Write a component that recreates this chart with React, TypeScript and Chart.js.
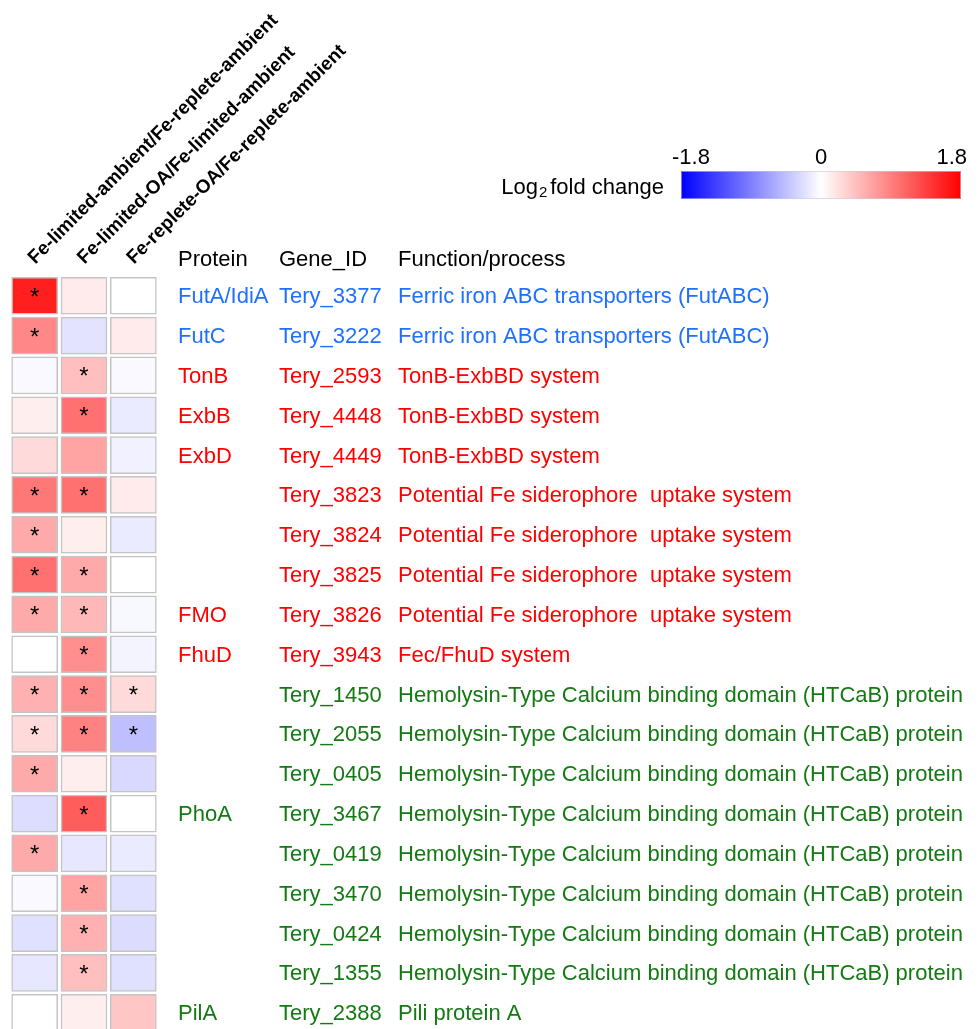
import React, { useEffect, useRef } from 'react';
import { Chart, registerables } from 'chart.js';

Chart.register(...registerables);

const conditions = [
  'Fe-limited-ambient/Fe-replete-ambient',
  'Fe-limited-OA/Fe-limited-ambient',
  'Fe-replete-OA/Fe-replete-ambient',
];

const proteins = ['FutA/IdiA', 'FutC', 'TonB', 'ExbB', 'ExbD', '', '', '', 'FMO', 'FhuD', '', '', '', 'PhoA', '', '', '', '', 'PilA'];

const geneIds = [
  'Tery_3377', 'Tery_3222', 'Tery_2593', 'Tery_4448', 'Tery_4449', 'Tery_3823', 'Tery_3824', 'Tery_3825',
  'Tery_3826', 'Tery_3943', 'Tery_1450', 'Tery_2055', 'Tery_0405', 'Tery_3467', 'Tery_0419', 'Tery_3470',
  'Tery_0424', 'Tery_1355', 'Tery_2388',
];

const functions = [
  'Ferric iron ABC transporters (FutABC)',
  'Ferric iron ABC transporters (FutABC)',
  'TonB-ExbBD system',
  'TonB-ExbBD system',
  'TonB-ExbBD system',
  'Potential Fe siderophore  uptake system',
  'Potential Fe siderophore  uptake system',
  'Potential Fe siderophore  uptake system',
  'Potential Fe siderophore  uptake system',
  'Fec/FhuD system',
  'Hemolysin-Type Calcium binding domain (HTCaB) protein',
  'Hemolysin-Type Calcium binding domain (HTCaB) protein',
  'Hemolysin-Type Calcium binding domain (HTCaB) protein',
  'Hemolysin-Type Calcium binding domain (HTCaB) protein',
  'Hemolysin-Type Calcium binding domain (HTCaB) protein',
  'Hemolysin-Type Calcium binding domain (HTCaB) protein',
  'Hemolysin-Type Calcium binding domain (HTCaB) protein',
  'Hemolysin-Type Calcium binding domain (HTCaB) protein',
  'Pili protein A',
];

// group of each row: 0 = iron ABC (blue), 1 = TonB/siderophore (red), 2 = HTCaB/pili (green)
const rowGroups = [0, 0, 1, 1, 1, 1, 1, 1, 1, 1, 2, 2, 2, 2, 2, 2, 2, 2, 2];
const groupColors = ['#2070ff', '#ff0000', '#137a13'];

// log2 fold change values
const feLimitedAmbient = [1.58, 0.85, -0.04, 0.12, 0.26, 0.95, 0.6, 1.0, 0.6, 0.0, 0.55, 0.26, 0.6, -0.24, 0.6, -0.04, -0.22, -0.17, 0.0];
const feLimitedOA = [0.14, -0.2, 0.45, 1.0, 0.65, 1.0, 0.12, 0.6, 0.5, 0.8, 0.8, 0.88, 0.12, 1.15, -0.17, 0.65, 0.55, 0.45, 0.12];
const feRepleteOA = [0.0, 0.14, -0.04, -0.14, -0.1, 0.14, -0.14, 0.0, -0.05, -0.08, 0.26, -0.45, -0.27, 0.0, -0.14, -0.22, -0.25, -0.22, 0.4];

// significance (asterisks)
const sigLimitedAmbient = [1, 1, 0, 0, 0, 1, 1, 1, 1, 0, 1, 1, 1, 0, 1, 0, 0, 0, 0];
const sigLimitedOA = [0, 0, 1, 1, 0, 1, 0, 1, 1, 1, 1, 1, 0, 1, 0, 1, 1, 1, 0];
const sigRepleteOA = [0, 0, 0, 0, 0, 0, 0, 0, 0, 0, 1, 1, 0, 0, 0, 0, 0, 0, 0];

const colorbarTicks = [-1.8, 0, 1.8];
const headers = ['Protein', 'Gene_ID', 'Function/process'];

const seriesValues = [feLimitedAmbient, feLimitedOA, feRepleteOA];
const seriesSig = [sigLimitedAmbient, sigLimitedOA, sigRepleteOA];

const LIMIT = 1.8;
function valueColor(v: number): string {
  const t = Math.min(1, Math.abs(v) / LIMIT);
  const c = Math.round(255 * (1 - t));
  return v >= 0 ? `rgb(255,${c},${c})` : `rgb(${c},${c},255)`;
}

const FONT = "'Liberation Sans', Arial, sans-serif";
const HALF = 0.4645;

const overlayPlugin = {
  id: 'overlay',
  afterDraw(chart: any) {
    const ctx = chart.ctx as CanvasRenderingContext2D;
    const xs = chart.scales.x;
    const ys = chart.scales.y;
    ctx.save();

    // asterisks
    ctx.fillStyle = '#000';
    ctx.font = `24px ${FONT}`;
    ctx.textAlign = 'center';
    ctx.textBaseline = 'alphabetic';
    seriesSig.forEach((sig, k) => {
      const x = xs.getPixelForValue(k);
      sig.forEach((s, i) => {
        if (!s) return;
        const y = ys.getPixelForValue(i);
        ctx.fillText('*', x, y + 9);
      });
    });

    // headers
    const colX = [178, 279, 398];
    ctx.textAlign = 'left';
    ctx.font = `22px ${FONT}`;
    ctx.fillStyle = '#000';
    headers.forEach((h, j) => ctx.fillText(h, colX[j], 266));

    // row texts
    for (let i = 0; i < geneIds.length; i++) {
      const y = ys.getPixelForValue(i) + 7.5;
      if (y > chart.height + 20) continue;
      ctx.fillStyle = groupColors[rowGroups[i]];
      if (proteins[i]) ctx.fillText(proteins[i], colX[0], y);
      ctx.fillText(geneIds[i], colX[1], y);
      ctx.fillText(functions[i], colX[2], y);
    }

    // colorbar
    const cbL = 681, cbR = 961, cbT = 171, cbB = 199;
    const grad = ctx.createLinearGradient(cbL, 0, cbR, 0);
    grad.addColorStop(0, valueColor(colorbarTicks[0]));
    grad.addColorStop(0.5, valueColor(colorbarTicks[1]));
    grad.addColorStop(1, valueColor(colorbarTicks[2]));
    ctx.fillStyle = grad;
    ctx.fillRect(cbL, cbT, cbR - cbL, cbB - cbT);
    ctx.strokeStyle = 'rgba(200,200,230,0.6)';
    ctx.lineWidth = 1;
    ctx.strokeRect(cbL + 0.5, cbT + 0.5, cbR - cbL - 1, cbB - cbT - 1);

    ctx.fillStyle = '#000';
    ctx.font = `22px ${FONT}`;
    ctx.textAlign = 'left';
    ctx.fillText(String(colorbarTicks[0]), 672, 164);
    ctx.textAlign = 'center';
    ctx.fillText(String(colorbarTicks[1]), 821, 164);
    ctx.textAlign = 'right';
    ctx.fillText(String(colorbarTicks[2]), 967, 164);

    // Log2 fold change (right-aligned at 664)
    ctx.textAlign = 'left';
    ctx.font = `22px ${FONT}`;
    const wLog = ctx.measureText('Log').width;
    const wRest = ctx.measureText('fold change').width;
    ctx.font = `15px ${FONT}`;
    const w2 = ctx.measureText('2').width;
    let x = 664 - (wLog + 1 + w2 + 3 + wRest);
    ctx.font = `22px ${FONT}`;
    ctx.fillText('Log', x, 194);
    x += wLog + 1;
    ctx.font = `15px ${FONT}`;
    ctx.fillText('2', x, 197);
    x += w2 + 3;
    ctx.font = `22px ${FONT}`;
    ctx.fillText('fold change', x, 194);

    ctx.restore();
  },
};

export default function App() {
  const canvasRef = useRef<HTMLCanvasElement | null>(null);

  useEffect(() => {
    if (!canvasRef.current) return;
    const datasets = seriesValues.map((vals, k) => ({
      label: conditions[k],
      data: vals.map((v, i) => ({ x: conditions[k], y: [i - HALF, i + HALF] })),
      backgroundColor: vals.map((v) => valueColor(v)),
      borderColor: '#c4c4c4',
      borderWidth: 1.5,
      borderSkipped: false,
      barThickness: 46,
      grouped: false,
    }));

    const chart = new Chart(canvasRef.current, {
      type: 'bar',
      data: { labels: conditions, datasets: datasets as any },
      options: {
        animation: false,
        responsive: false,
        devicePixelRatio: 1,
        layout: { padding: { left: 10, right: 822, top: 0, bottom: 0 } },
        plugins: { legend: { display: false }, tooltip: { enabled: false } },
        scales: {
          x: {
            type: 'category',
            position: 'top',
            offset: true,
            grid: { display: false, drawTicks: false },
            border: { display: false },
            ticks: {
              autoSkip: false,
              minRotation: 45,
              maxRotation: 45,
              padding: 6,
              labelOffset: 13,
              color: '#000',
              font: { family: FONT, size: 19, weight: 'bold' },
            },
            afterFit: (scale: any) => {
              scale.height = 275;
            },
          },
          y: {
            type: 'linear',
            reverse: true,
            min: -0.522,
            max: 18.408,
            display: false,
          },
        },
      },
      plugins: [overlayPlugin],
    });
    return () => chart.destroy();
  }, []);

  return (
    <div style={{ position: 'absolute', left: 0, top: 0, width: 980, height: 1029, background: '#fff' }}>
      <canvas ref={canvasRef} width={980} height={1029} style={{ width: 980, height: 1029, display: 'block' }} />
    </div>
  );
}
